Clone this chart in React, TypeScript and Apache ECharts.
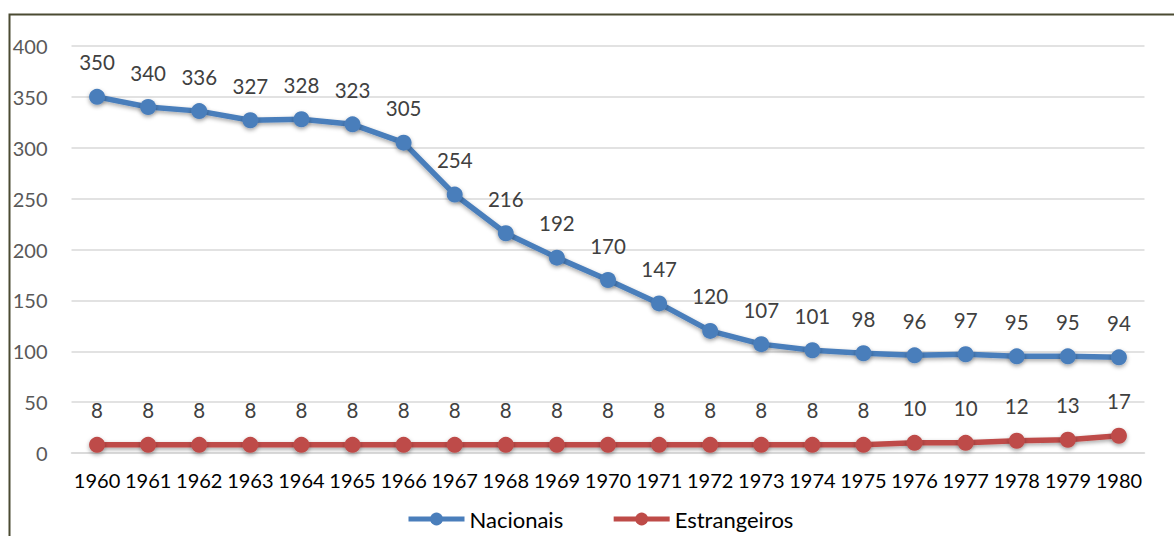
import React, { useEffect, useRef } from "react";
import * as echarts from "echarts";

const years = ["1960","1961","1962","1963","1964","1965","1966","1967","1968","1969","1970","1971","1972","1973","1974","1975","1976","1977","1978","1979","1980"];
const nacionais = [350,340,336,327,328,323,305,254,216,192,170,147,120,107,101,98,96,97,95,95,94];
const estrangeiros = [8,8,8,8,8,8,8,8,8,8,8,8,8,8,8,8,10,10,12,13,17];

const FONT = "Lato, 'Open Sans', sans-serif";

export default function App() {
  const ref = useRef<HTMLDivElement>(null);
  useEffect(() => {
    document.body.style.margin = "0";
    const chart = echarts.init(ref.current!, null, { renderer: "svg" });
    const mkSeries = (name: string, data: number[], color: string) => ({
      name,
      type: "line",
      data,
      symbol: "circle",
      symbolSize: 16,
      lineStyle: { width: 5.5, color, shadowBlur: 4, shadowColor: "rgba(0,0,0,0.35)", shadowOffsetY: 2 },
      itemStyle: { color, shadowBlur: 4, shadowColor: "rgba(0,0,0,0.35)", shadowOffsetY: 2 },
      label: { show: true, position: "top", distance: 16, color: "#404040", fontSize: 20.5, fontFamily: FONT },
      emphasis: { disabled: true },
    });
    chart.setOption({
      animation: false,
      backgroundColor: "#ffffff",
      textStyle: { fontFamily: FONT },
      graphic: [
        { type: "rect", shape: { x: 9.5, y: 14.5, width: 1300, height: 700 }, style: { fill: "none", stroke: "#4b4b32", lineWidth: 2 }, silent: true },
      ],
      grid: { left: 71.5, right: 29.5, top: 46, bottom: 83, containLabel: false },
      xAxis: {
        type: "category",
        data: years,
        boundaryGap: true,
        axisLine: { show: true, lineStyle: { color: "#d9d9d9", width: 1.5 } },
        axisTick: { show: false },
        axisLabel: { color: "#000000", fontSize: 20, margin: 17, fontFamily: FONT, interval: 0 },
      },
      yAxis: {
        type: "value",
        min: 0,
        max: 400,
        interval: 50,
        axisLine: { show: false },
        axisTick: { show: false },
        splitLine: { lineStyle: { color: "#d9d9d9", width: 1.5 } },
        axisLabel: { color: "#595959", fontSize: 20, margin: 24, fontFamily: FONT },
      },
      legend: {
        bottom: 1,
        left: 401,
        itemWidth: 56,
        itemHeight: 16,
        itemGap: 48,
        lineStyle: { width: 5 },
        textStyle: { color: "#000000", fontSize: 22, fontFamily: FONT },
        data: ["Nacionais", "Estrangeiros"],
      },
      series: [
        mkSeries("Nacionais", nacionais, "#4a7ebb"),
        mkSeries("Estrangeiros", estrangeiros, "#be4b48"),
      ],
    });
    return () => chart.dispose();
  }, []);
  return <div ref={ref} style={{ position: "fixed", left: 0, top: 0, width: 1174, height: 536 }} />;
}
